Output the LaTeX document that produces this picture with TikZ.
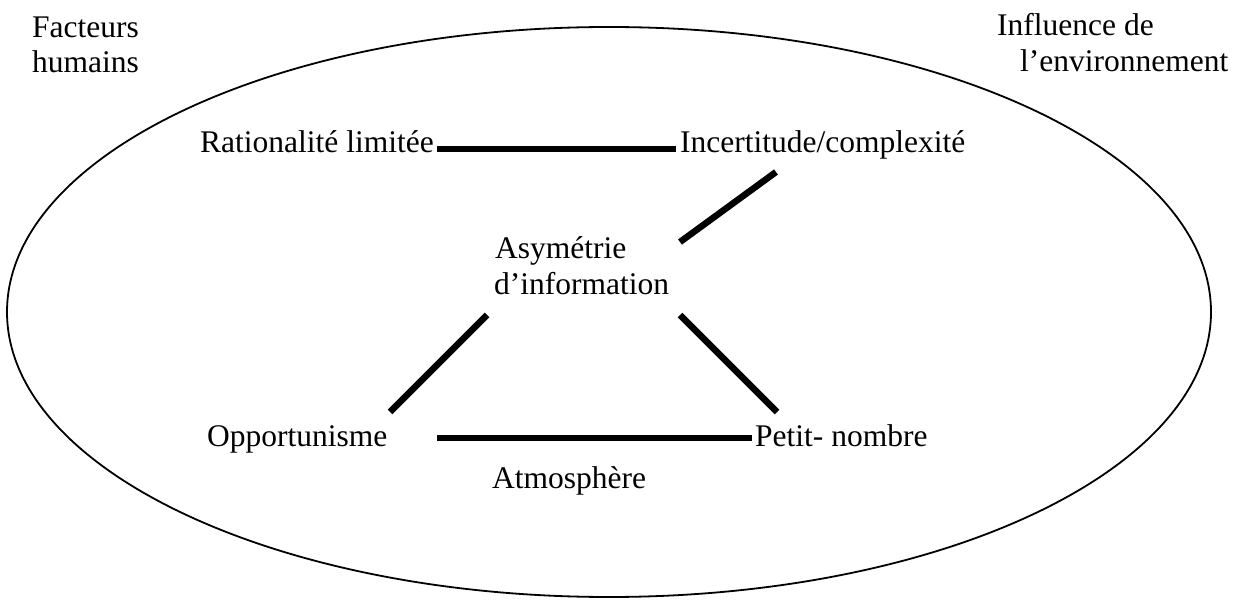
\documentclass[tikz,border=0pt]{standalone}
\usepackage{fontspec}
\setmainfont{Liberation Serif}
\begin{document}
\begin{tikzpicture}[x=1pt,y=-1pt,
  lbl/.style={anchor=base west,inner sep=0pt,font=\fontsize{31.5}{35}\selectfont},
  link/.style={line width=6.5pt,line cap=butt},
  oval/.style={line width=1.8pt}]
\useasboundingbox (0,0) rectangle (1242,601);
\draw[oval] (609,312) ellipse [x radius=602pt, y radius=285pt];
% labels
\node[lbl] (fac) at (32,38) {Facteurs};
\node[lbl] (hum) at (32,73) {humains};
\node[lbl] (inf) at (997,36) {Influence de};
\node[lbl] (env) at (1020,72) {l’environnement};
\node[lbl] (rat) at (200,153) {Rationalité limitée};
\node[lbl] (inc) at (680,153) {Incertitude/complexité};
\node[lbl] (asy) at (495,259) {Asymétrie};
\node[lbl] (dinf) at (494,295) {d’information};
\node[lbl] (opp) at (207,446) {Opportunisme};
\node[lbl] (pet) at (755,446) {Petit- nombre};
\node[lbl] (atm) at (492,488) {Atmosphère};
% connector ends
\coordinate (l1a) at (437,149);
\coordinate (l1b) at (676,149);
\coordinate (l2a) at (776,172);
\coordinate (l2b) at (680,242);
\coordinate (l3a) at (487,315);
\coordinate (l3b) at (390,412);
\coordinate (l4a) at (680,315);
\coordinate (l4b) at (777,412);
\coordinate (l5a) at (437,438);
\coordinate (l5b) at (752,438);
\draw[link] (l1a) -- (l1b);
\draw[link] (l2a) -- (l2b);
\draw[link] (l3a) -- (l3b);
\draw[link] (l4a) -- (l4b);
\draw[link] (l5a) -- (l5b);
\end{tikzpicture}
\end{document}
